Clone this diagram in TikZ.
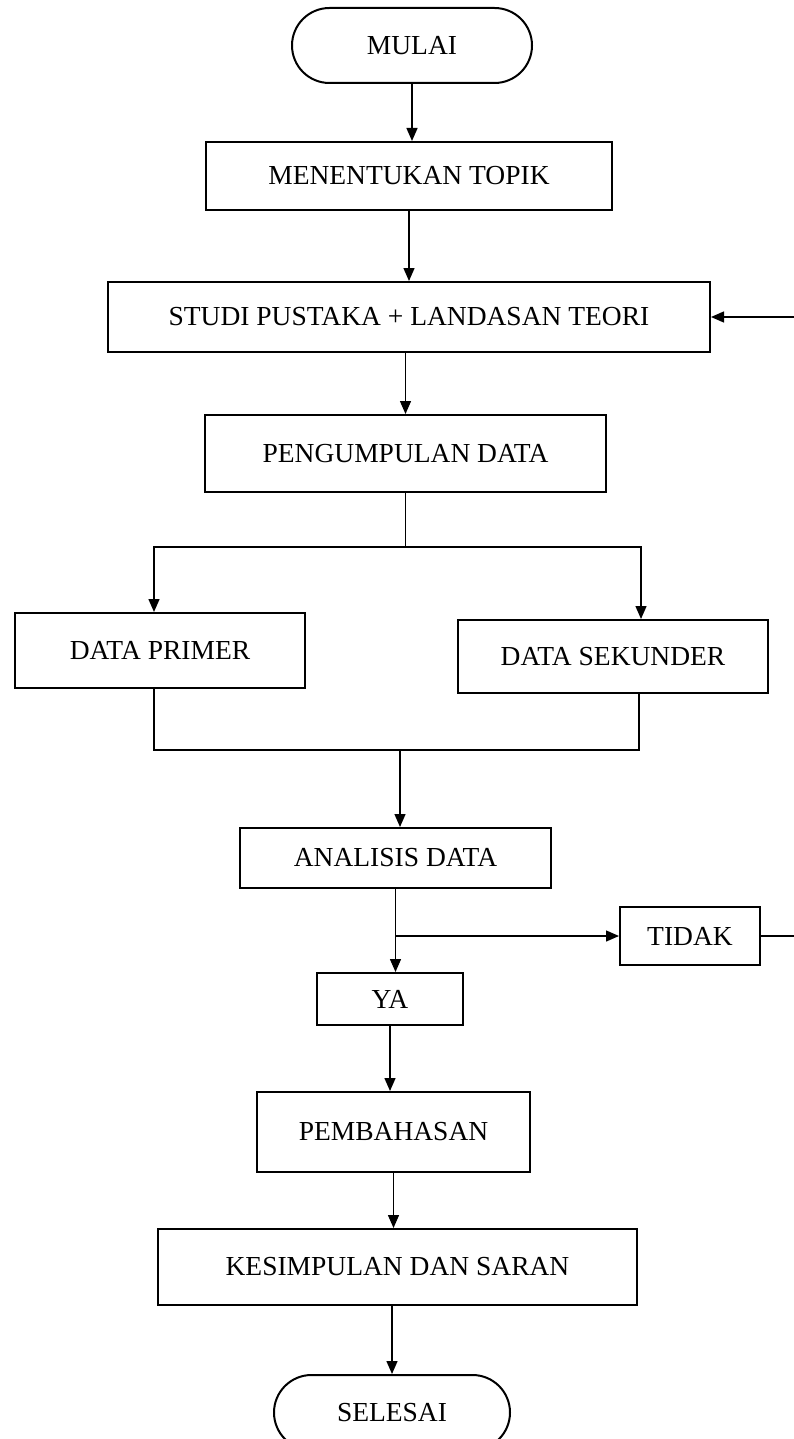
\documentclass[tikz,border=0pt]{standalone}
\usepackage{fontspec}
\setmainfont{Liberation Serif}
\usetikzlibrary{shapes.misc,arrows.meta,calc}

\begin{document}
\begin{tikzpicture}[x=0.5pt,y=-0.5pt,
    every node/.style={font=\fontsize{13.75}{16}\selectfont},
    box/.style={draw, line width=1pt, rectangle, inner sep=0pt},
    terminal/.style={draw, line width=1pt, rounded rectangle, inner sep=0pt},
    line/.style={line width=0.7pt},
    >={Triangle[length=6.5pt,width=5.5pt]}]
    \useasboundingbox (0,0) rectangle (793,1439);

    % Start and preparation
    \node[terminal, minimum width=120pt, minimum height=37.5pt] (mulai) at (412,45.5) {MULAI};
    \node[box, minimum width=203pt, minimum height=34pt] (menentukan) at (409,176) {MENENTUKAN TOPIK};
    \node[box, minimum width=301pt, minimum height=35pt] (studi) at (409,317) {STUDI PUSTAKA + LANDASAN TEORI};
    \node[box, minimum width=200.5pt, minimum height=38.5pt] (pengumpulan) at (405.5,453.5) {PENGUMPULAN DATA};

    % Data sources
    \node[box, minimum width=145pt, minimum height=37.5pt] (primer) at (160,650.5) {DATA PRIMER};
    \node[box, minimum width=155pt, minimum height=36.5pt] (sekunder) at (613,656.5) {DATA SEKUNDER};

    % Analysis and decision
    \node[box, minimum width=155.5pt, minimum height=30pt] (analisis) at (395.5,858) {ANALISIS DATA};
    \node[box, minimum width=70pt, minimum height=29pt] (tidak) at (690,936) {TIDAK};
    \node[box, minimum width=73pt, minimum height=26pt] (ya) at (390,999) {YA};

    % Closing steps
    \node[box, minimum width=136.5pt, minimum height=40pt] (pembahasan) at (393.5,1132) {PEMBAHASAN};
    \node[box, minimum width=239.5pt, minimum height=38pt] (kesimpulan) at (397.5,1267) {KESIMPULAN DAN SARAN};
    \node[terminal, minimum width=118pt, minimum height=37.5pt] (selesai) at (392,1412.5) {SELESAI};

    % Straight arrows
    \foreach \a/\b in {mulai/menentukan, menentukan/studi, analisis/ya, ya/pembahasan, pembahasan/kesimpulan}
        \draw[line,->] (\a.south) -- (\a.south |- \b.north);
    \draw[line,->] (pengumpulan.north |- studi.south) -- (pengumpulan.north);
    \draw[line,->] (selesai.north |- kesimpulan.south) -- (selesai.north);

    % Split to both data types
    \coordinate (split) at (pengumpulan.south |- 0,547);
    \draw[line] (pengumpulan.south) -- (split);
    \draw[line,->] (split) -| ($(primer.north)+(-6,0)$);
    \draw[line,->] (split) -| ($(sekunder.north)+(28,0)$);

    % Merge into analysis
    \coordinate (merge) at (400,750);
    \draw[line] ($(primer.south)+(-6,0)$) |- (merge) -| ($(sekunder.south)+(26,0)$);
    \draw[line,->] (merge) -- (merge |- analisis.north);

    % Loop back when the result is not accepted
    \draw[line,->] (analisis.south |- tidak.west) -- (tidak.west);
    \draw[line,->] (tidak.east) -- ++(70,0) |- (studi.east);
\end{tikzpicture}
\end{document}
